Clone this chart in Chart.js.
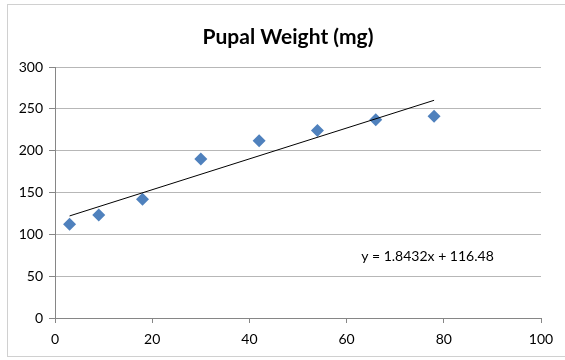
<!DOCTYPE html>
<html>
<head>
<meta charset="utf-8">
<script src="https://cdn.jsdelivr.net/npm/chart.js@4/dist/chart.umd.min.js"></script>
<style>
  html, body { margin: 0; padding: 0; background: #fff; }
  #wrap { position: relative; width: 565px; height: 360px; }
  #frame { position: absolute; left: 7px; top: 4px; width: 570px; height: 353px;
           border: 1px solid #d0d0d0; box-sizing: border-box; pointer-events: none; }
</style>
</head>
<body>
<div id="wrap">
  <canvas id="c" width="565" height="360"></canvas>
  <div id="frame"></div>
</div>
<script>
// ---- data ----
const ageDays   = [3, 9, 18, 30, 42, 54, 66, 78];
const weightMg  = [112, 123, 142, 190, 212, 224, 237, 241];
// trendline ends (Excel linear fit y = 1.8432x + 116.48)
const trendX    = [3, 78];
const trendY    = [122.0, 260.2];
const titleText = 'Pupal Weight (mg)';
const equation  = 'y = 1.8432x + 116.48';
const xTicks    = [0, 20, 40, 60, 80, 100];
const yTicks    = [0, 50, 100, 150, 200, 250, 300];

const FONT = 'Lato, "Open Sans", sans-serif';

// title centred on the whole chart frame (Excel style), eq label in data coords
const textBits = {
  id: 'textBits',
  afterDatasetsDraw(chart) {
    const { ctx, scales } = chart;
    ctx.save();
    ctx.fillStyle = '#000';
    ctx.textBaseline = 'middle';

    ctx.font = 'bold 21px ' + FONT;
    ctx.textAlign = 'center';
    ctx.fillText(titleText, 288, 37);

    ctx.font = '14px ' + FONT;
    ctx.textAlign = 'left';
    ctx.fillText(equation, scales.x.getPixelForValue(63), scales.y.getPixelForValue(73));
    ctx.restore();
  }
};

new Chart(document.getElementById('c'), {
  type: 'scatter',
  data: {
    datasets: [
      {
        label: 'Pupal Weight',
        data: ageDays.map((x, i) => ({ x, y: weightMg[i] })),
        pointStyle: 'rectRot',
        pointRadius: 6.5,
        pointHoverRadius: 6.5,
        backgroundColor: '#4f81bd',
        borderColor: '#4f81bd',
        borderWidth: 0,
        order: 1
      },
      {
        label: 'Linear',
        type: 'line',
        data: trendX.map((x, i) => ({ x, y: trendY[i] })),
        borderColor: '#000',
        borderWidth: 1,
        pointRadius: 0,
        fill: false,
        order: 0
      }
    ]
  },
  options: {
    responsive: false,
    animation: false,
    layout: { padding: { left: 0, right: 24, top: 67, bottom: 0 } },
    plugins: {
      legend: { display: false },
      tooltip: { enabled: false },
      title: { display: false }
    },
    scales: {
      x: {
        type: 'linear',
        min: 0, max: 100,
        afterBuildTicks: s => { s.ticks = xTicks.map(v => ({ value: v })); },
        afterFit: s => { s.height = 42; },
        grid: { drawOnChartArea: false, drawTicks: true, tickLength: 5, color: '#868686' },
        border: { color: '#868686', width: 1 },
        ticks: { color: '#000', padding: 8, font: { family: FONT, size: 14 }, maxRotation: 0 }
      },
      y: {
        type: 'linear',
        min: 0, max: 300,
        afterBuildTicks: s => { s.ticks = yTicks.map(v => ({ value: v })); },
        afterFit: s => { s.width = 55; },
        grid: { color: '#b7b7b7', tickColor: '#868686', tickLength: 6, lineWidth: 1 },
        border: { color: '#868686', width: 1 },
        ticks: { color: '#000', padding: 6, font: { family: FONT, size: 14 } }
      }
    }
  },
  plugins: [textBits]
});
</script>
</body>
</html>
